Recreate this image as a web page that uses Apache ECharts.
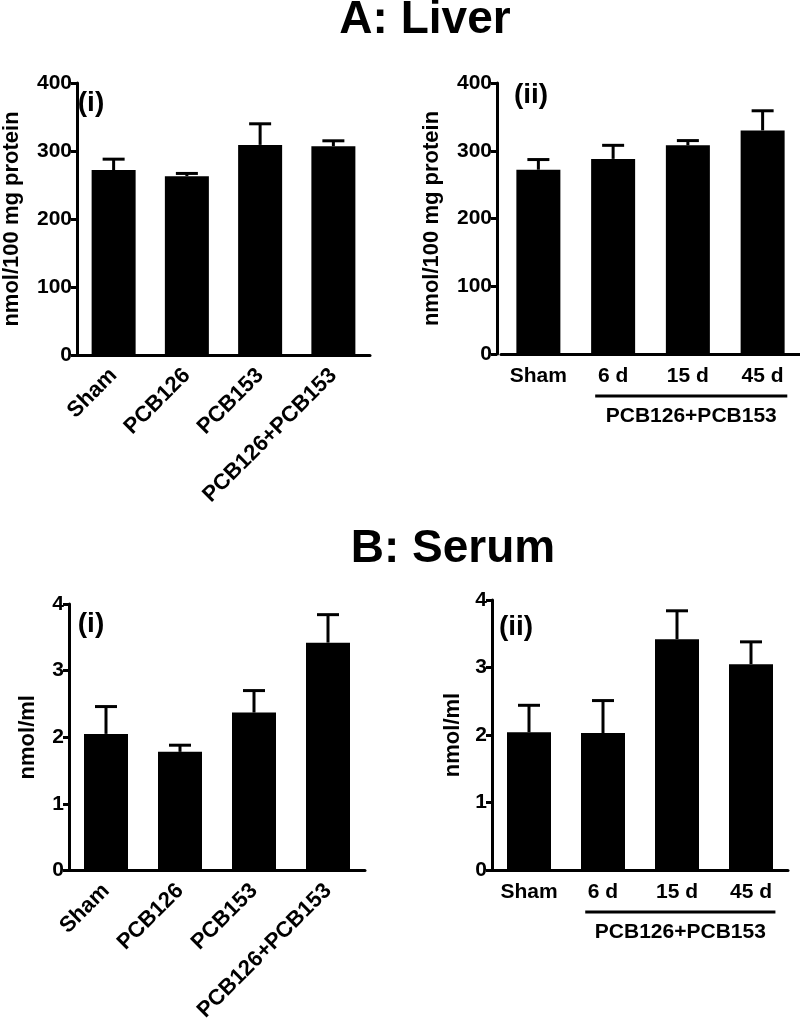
<!DOCTYPE html>
<html>
<head>
<meta charset="utf-8">
<script src="https://cdn.jsdelivr.net/npm/echarts@6/dist/echarts.min.js"></script>
<style>
html,body{margin:0;padding:0;background:#fff;}
#c{width:800px;height:1024px;}
</style>
</head>
<body>
<div id="c"></div>
<script>
// ---- data ----
const catsI = ['Sham', 'PCB126', 'PCB153', 'PCB126+PCB153'];
const catsII = ['Sham', '6 d', '15 d', '45 d'];
const liverI = [272, 263, 309, 307];
const liverIErr = [16, 4, 31, 8];
const liverII = [272, 288, 308, 330];
const liverIIErr = [15, 20, 7, 29];
const serumI = [2.05, 1.78, 2.37, 3.42];
const serumIErr = [0.41, 0.10, 0.33, 0.42];
const serumII = [2.04, 2.03, 3.42, 3.05];
const serumIIErr = [0.40, 0.48, 0.42, 0.33];
const groupLabel = 'PCB126+PCB153';
const liverYName = 'nmol/100 mg protein';
const serumYName = 'nmol/ml';
const titleA = 'A: Liver';
const titleB = 'B: Serum';

const FONT = '"Liberation Sans", Arial, sans-serif';

const grids = [
  {left: 70, top: 83, width: 300, height: 272},
  {left: 501, top: 83, width: 300, height: 271},
  {left: 69, top: 604, width: 296, height: 270},
  {left: 492, top: 600, width: 296, height: 270}
];

function xAxisDef(gi, cats, rotated) {
  return {
    type: 'category', gridIndex: gi, data: cats,
    axisLine: {lineStyle: {color: '#000', width: 3}},
    axisTick: {alignWithLabel: true, length: 7, lineStyle: {color: '#000', width: 3}},
    axisLabel: {
      color: '#000', fontFamily: FONT, fontWeight: 'bold', fontSize: rotated ? 22 : 21,
      rotate: rotated ? 45 : 0, margin: rotated ? 17 : 12, interval: 0
    },
    splitLine: {show: false}
  };
}
function yAxisDef(gi, max, interval, name, gap, offset) {
  return {
    type: 'value', gridIndex: gi, min: 0, max: max, interval: interval,
    offset: offset || 0,
    name: name, nameLocation: 'middle', nameGap: gap,
    nameTextStyle: {color: '#000', fontFamily: FONT, fontWeight: 'bold', fontSize: 22},
    axisLine: {show: true, lineStyle: {color: '#000', width: 3}},
    axisTick: {show: true, length: 6, lineStyle: {color: '#000', width: 3}},
    axisLabel: {color: '#000', fontFamily: FONT, fontWeight: 'bold', fontSize: 21, margin: 5},
    splitLine: {show: false}
  };
}
function barSeries(gi, vals) {
  return {
    type: 'bar', xAxisIndex: gi, yAxisIndex: gi, data: vals, barWidth: 44,
    itemStyle: {color: '#000'}, silent: true
  };
}
function errSeries(gi, vals, errs) {
  return {
    type: 'custom', xAxisIndex: gi, yAxisIndex: gi,
    data: vals.map((v, i) => [i, v, v + errs[i]]),
    renderItem: function (params, api) {
      const p0 = api.coord([api.value(0), api.value(1)]);
      const p1 = api.coord([api.value(0), api.value(2)]);
      const half = 11;
      return {
        type: 'group',
        children: [
          {type: 'line', shape: {x1: p0[0], y1: p0[1], x2: p1[0], y2: p1[1]},
           style: {stroke: '#000', lineWidth: 3}},
          {type: 'line', shape: {x1: p1[0] - half, y1: p1[1], x2: p1[0] + half, y2: p1[1]},
           style: {stroke: '#000', lineWidth: 3}}
        ]
      };
    },
    silent: true, z: 3
  };
}

const chart = echarts.init(document.getElementById('c'), null, {renderer: 'canvas'});
const option = {
  animation: false,
  backgroundColor: '#fff',
  grid: grids,
  xAxis: [
    xAxisDef(0, catsI, true),
    xAxisDef(1, catsII, false),
    xAxisDef(2, catsI, true),
    xAxisDef(3, catsII, false)
  ],
  yAxis: [
    yAxisDef(0, 400, 100, liverYName, 54, 0),
    yAxisDef(1, 400, 100, liverYName, 54, 4),
    yAxisDef(2, 4, 1, serumYName, 30, 0),
    yAxisDef(3, 4, 1, serumYName, 28, 0)
  ],
  series: [
    barSeries(0, liverI), errSeries(0, liverI, liverIErr),
    barSeries(1, liverII), errSeries(1, liverII, liverIIErr),
    barSeries(2, serumI), errSeries(2, serumI, serumIErr),
    barSeries(3, serumII), errSeries(3, serumII, serumIIErr)
  ]
};
chart.setOption(option);

// annotations
const textStyle = (size) => ({fill: '#000', font: 'bold ' + size + 'px ' + FONT, textAlign: 'center', textVerticalAlign: 'middle'});
const graphics = [
  {type: 'text', x: 425, y: 20, style: Object.assign({text: titleA}, textStyle(46))},
  {type: 'text', x: 453, y: 549, style: Object.assign({text: titleB}, textStyle(46))},
  {type: 'text', x: 91, y: 103, style: Object.assign({text: '(i)'}, textStyle(28))},
  {type: 'text', x: 531, y: 95, style: Object.assign({text: '(ii)'}, textStyle(28))},
  {type: 'text', x: 91, y: 624, style: Object.assign({text: '(i)'}, textStyle(28))},
  {type: 'text', x: 516, y: 627, style: Object.assign({text: '(ii)'}, textStyle(28))}
];
[1, 3].forEach(function (gi) {
  const c1 = chart.convertToPixel({xAxisIndex: gi}, 1);
  const c3 = chart.convertToPixel({xAxisIndex: gi}, 3);
  const band = (c3 - c1) / 2;
  const base = chart.convertToPixel({yAxisIndex: gi}, 0);
  const x1 = c1 - 0.24 * band, x2 = c3 + 0.33 * band;
  graphics.push({type: 'line', shape: {x1: x1, y1: base + 42, x2: x2, y2: base + 42},
    style: {stroke: '#000', lineWidth: 3}});
  graphics.push({type: 'text', x: (x1 + x2) / 2, y: base + 62,
    style: Object.assign({text: groupLabel}, textStyle(21))});
});
chart.setOption({graphic: graphics});
</script>
</body>
</html>
